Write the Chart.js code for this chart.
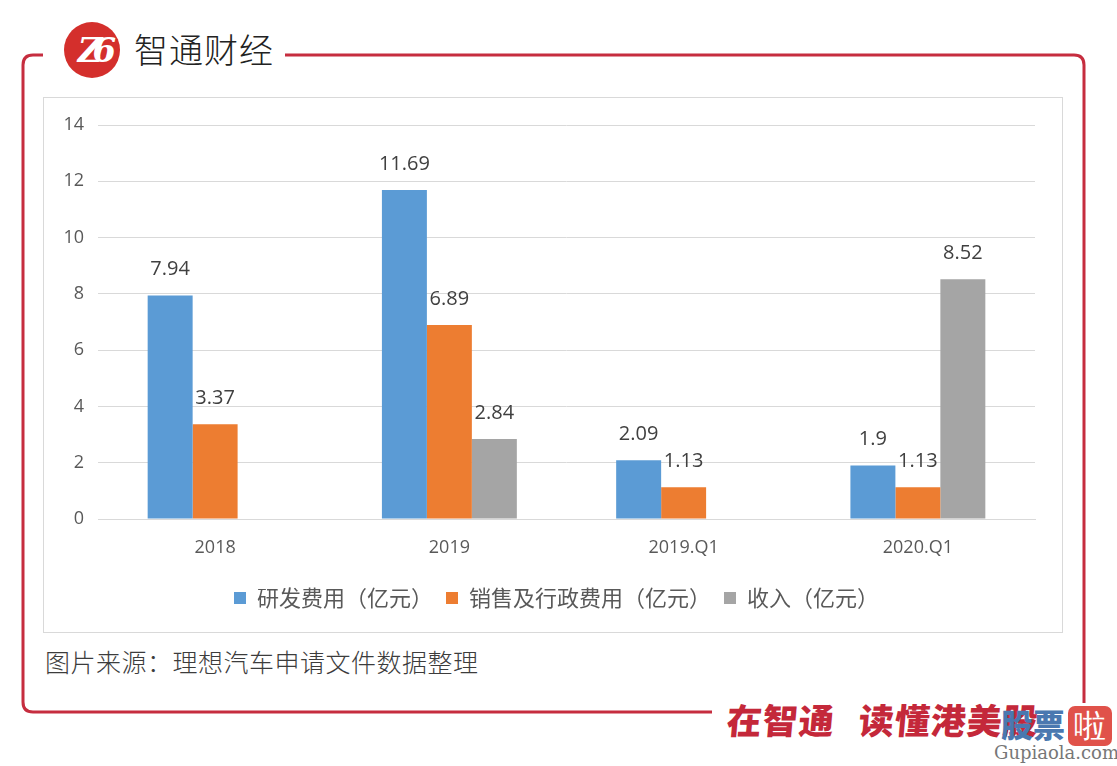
<!DOCTYPE html>
<html>
<head>
<meta charset="utf-8">
<script src="https://cdn.jsdelivr.net/npm/chart.js@4.4.1/dist/chart.umd.min.js"></script>
<style>
  body { margin: 0; background: #fff; width: 1117px; height: 766px; position: relative; overflow: hidden; font-family: "Noto Sans CJK SC", sans-serif; }
  #frame { position: absolute; left: 0; top: 0; }
  #logo { position: absolute; left: 64px; top: 22px; width: 56px; height: 56px; border-radius: 50%; background: #d42f2c; color: #fff; font: italic 700 34px "DejaVu Serif", serif; text-align: center; line-height: 56px; letter-spacing: -10px; }
  #brand { position: absolute; left: 134px; top: 24px; font-size: 34px; color: #222; letter-spacing: 1px; font-weight: 300; }
  #box { position: absolute; left: 43px; top: 97px; width: 1020px; height: 536px; border: 1px solid #d9d9d9; box-sizing: border-box; }
  #source { position: absolute; left: 45px; top: 643px; font-size: 25px; color: #3c3c3c; font-weight: 300; letter-spacing: 0.5px; }
  #slogan { position: absolute; left: 727px; top: 693px; font-size: 35px; font-weight: 900; color: #c4283a; transform: skewX(-5deg); letter-spacing: 1px; white-space: nowrap; }
  #slogan span + span { margin-left: 24px; }
  #wm { position: absolute; left: 1001px; top: 700px; font-size: 32px; font-weight: 900; color: #4a78b0; white-space: nowrap; }
  #wm span { display: inline-block; margin-left: 3px; width: 44px; text-align: center; background: #e0524a; color: #fff; border-radius: 7px; line-height: 40px; font-family: "DejaVu Serif", serif; font-weight: 400; font-size: 32px; }
  #wmurl { position: absolute; left: 994px; top: 742px; font: 18px "DejaVu Serif", serif; color: #777; }
</style>
</head>
<body>
<svg id="frame" width="1117" height="766">
  <path d="M43 55 H33 Q23 55 23 65 V702 Q23 712 33 712 H712" fill="none" stroke="#c62d3f" stroke-width="3"/>
  <path d="M285 55 H1074 Q1084 55 1084 65 V703" fill="none" stroke="#c62d3f" stroke-width="3"/>
</svg>
<div id="logo">Z6</div>
<div id="brand">智通财经</div>
<div id="box"><canvas id="barChart"></canvas></div>
<div id="source">图片来源：理想汽车申请文件数据整理</div>
<div id="slogan"><span>在智通</span><span>读懂港美股</span></div>
<div id="wm">股票<span>啦</span></div>
<div id="wmurl">Gupiaola.com</div>

<script>
const categories = ['2018', '2019', '2019.Q1', '2020.Q1'];
const rdCost = [7.94, 11.69, 2.09, 1.9];
const sgaCost = [3.37, 6.89, 1.13, 1.13];
const revenue = [null, 2.84, null, 8.52];
const yTicks = [0, 2, 4, 6, 8, 10, 12, 14];

const numFont = '"Open Sans", sans-serif';

// values above each bar
const valueLabels = {
  id: 'valueLabels',
  afterDatasetsDraw(chart) {
    const c = chart.ctx;
    c.save();
    c.font = '20px ' + numFont;
    c.fillStyle = '#404040';
    c.textAlign = 'center';
    c.textBaseline = 'middle';
    chart.data.datasets.forEach((ds, i) => {
      chart.getDatasetMeta(i).data.forEach((bar, j) => {
        const v = ds.data[j];
        if (v === null) return;
        c.fillText(String(v), bar.x, bar.y - 26);
      });
    });
    c.restore();
  }
};

// centre the legend on the whole box, not only the part left of the right padding
const legendShift = {
  id: 'legendShift',
  afterLayout(chart) {
    chart.legend.left += 17;
    chart.legend.right += 17;
  }
};

const canvas = document.getElementById('barChart');
canvas.style.width = '1018px';
canvas.style.height = '534px';

new Chart(canvas.getContext('2d'), {
  type: 'bar',
  data: {
    labels: categories,
    datasets: [
      { label: '研发费用（亿元）', data: rdCost, backgroundColor: '#5b9bd5' },
      { label: '销售及行政费用（亿元）', data: sgaCost, backgroundColor: '#ed7d31' },
      { label: '收入（亿元）', data: revenue, backgroundColor: '#a5a5a5' }
    ]
  },
  options: {
    responsive: false,
    animation: false,
    layout: { padding: { left: 0, right: 27, top: 27, bottom: 13 } },
    datasets: { bar: { categoryPercentage: 0.576, barPercentage: 1 } },
    plugins: {
      legend: {
        position: 'bottom',
        labels: {
          boxWidth: 12, boxHeight: 12, padding: 13,
          color: '#595959',
          font: { family: '"Noto Sans CJK SC", sans-serif', size: 22 }
        }
      },
      tooltip: { enabled: false }
    },
    scales: {
      x: {
        grid: { display: false, drawTicks: false },
        border: { color: '#d9d9d9' },
        ticks: { color: '#595959', padding: 18, font: { family: numFont, size: 18 } },
        afterFit(scale) { scale.height = 55; }
      },
      y: {
        min: 0, max: 14,
        afterBuildTicks(scale) { scale.ticks = yTicks.map(v => ({ value: v })); },
        grid: { color: '#d9d9d9', drawTicks: false },
        border: { display: false },
        ticks: { color: '#595959', padding: 14, font: { family: numFont, size: 18 } },
        afterFit(scale) { scale.width = 54; }
      }
    }
  },
  plugins: [valueLabels, legendShift]
});
</script>
</body>
</html>
